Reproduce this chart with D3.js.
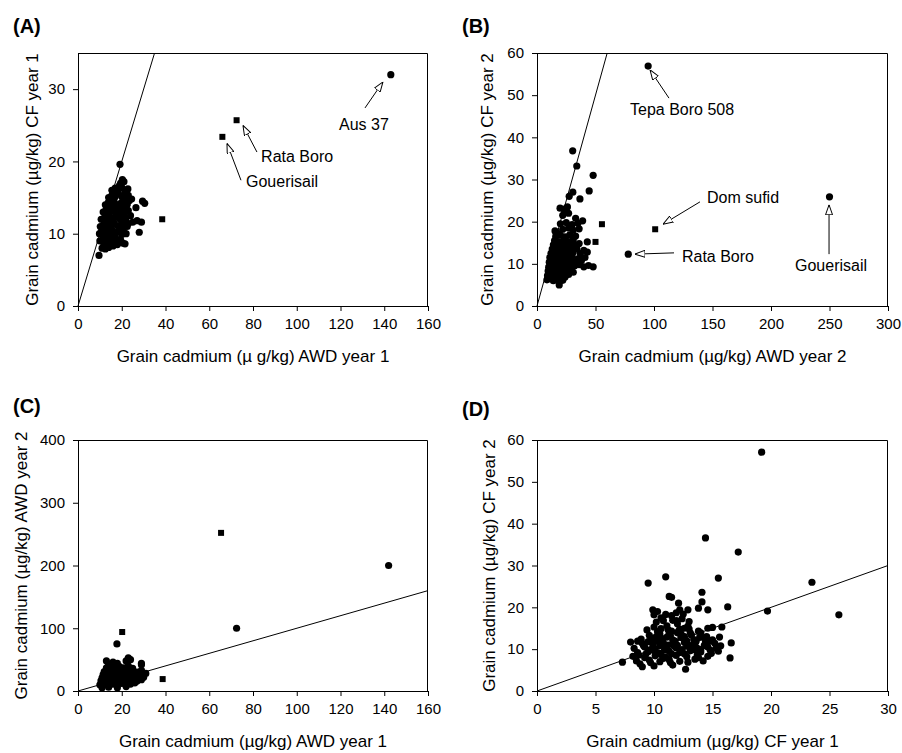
<!DOCTYPE html>
<html>
<head>
<meta charset="utf-8">
<title>Grain cadmium, AWD vs CF</title>
<script src="https://cdnjs.cloudflare.com/ajax/libs/d3/7.8.5/d3.min.js"></script>
<style>
  body { margin: 0; background: #fff; }
  svg { font-family: "Liberation Sans", Arial, sans-serif; }
  .axis path, .axis line { stroke: #000; stroke-width: 1px; }
  .axis text { font-size: 15px; fill: #000; }
  .frame { fill: none; stroke: #000; stroke-width: 1px; }
  .title { font-size: 17px; fill: #000; }
  .note { font-size: 16px; fill: #000; }
  .letter { font-size: 20px; font-weight: bold; fill: #000; }
  .ref { stroke: #000; stroke-width: 1px; }
  .arrow { stroke: #000; stroke-width: 1px; }
</style>
</head>
<body>
<svg id="chart" width="902" height="753"></svg>
<script>
// (A) AWD year 1 (x) vs CF year 1 (y)
var circlesA = [
  [9.6,7.0],[11,8.0],[12.5,7.9],[14,8.1],[16,8.3],[11.8,8.4],[13.2,8.6],[20.5,8.7],[21.5,8.6],[18,8.5],
  [10,9.0],[11.2,9.2],[12.5,9.1],[13.8,9.3],[15,9.0],[16.5,9.4],[18,9.2],[19.5,9.1],[17.2,8.9],
  [9.8,10.0],[10.8,10.3],[12,9.8],[13.3,10.2],[14.6,10.0],[15.8,10.4],[17,10.1],[18.5,10.3],[20,9.9],[22,10.0],[28,10.2],
  [10.2,11.0],[11.5,11.2],[12.8,10.8],[14,11.3],[15.2,11.0],[16.6,11.4],[18,11.1],[19.4,10.9],[21,11.3],[23,11.4],[25,11.6],[27,11.8],[29,11.6],
  [10.6,12.0],[12,12.2],[13.4,11.9],[14.8,12.3],[16,12.0],[17.4,12.4],[18.8,12.1],[20.2,12.3],[21.8,12.0],[24,12.5],
  [11.5,13.0],[12.8,13.3],[14.2,12.9],[15.6,13.2],[17,13.0],[18.4,13.4],[20,13.1],[21.4,13.5],[23,13.2],[26.5,13.6],
  [12.5,14.0],[13.8,14.3],[15.2,14.1],[16.5,14.4],[18,14.0],[19.5,14.2],[21,14.5],[22.5,14.1],[24.5,14.8],[29.5,14.5],[30.5,14.2],
  [14,15.0],[15.5,15.3],[17,15.1],[18.5,15.5],[20,15.2],[21.5,15.6],[23,15.3],
  [15.5,16.0],[17,16.3],[18.5,16.1],[20,16.4],[21.5,16.0],[22.8,16.2],
  [19.5,17.0],[21,17.2],[20.3,17.5],[19.2,19.6],
  [11,10.6],[12.4,11.5],[13.7,12.5],[15,13.7],[16.3,14.8],[17.7,15.7],[19,16.7],[14.3,10.7],[16,11.7],
  [17.6,12.7],[19.2,13.8],[20.5,14.8],[13,9.6],[15.4,9.7],[17,9.7],[19,10.5],[20.7,10.5],[22.5,11],
  [12,10.6],[21.2,12.8],[22.3,13.9],[23.5,14.6],[22,15.1],[16.8,13.8],[18.2,12.8],[19.8,11.8],
  [143,32.0]
];
var squaresA = [[38.5,12.0],[66,23.4],[72.5,25.7]];

// (B) AWD year 2 (x) vs CF year 2 (y)
var circlesB = [
  [19,5.0],
  [8.5,6.2],[11,6.5],[14,6.0],[17,6.3],[22,6.1],
  [9,7.2],[12,7.0],[15,7.4],[18,7.1],[21,7.3],[24,6.9],[27,7.5],
  [9.5,8.3],[12.5,8.0],[15.5,8.4],[18.5,8.1],[21.5,8.5],[24.5,8.2],[28,8.4],[31,8.0],
  [10,9.2],[13,9.5],[16,9.1],[19,9.4],[22,9.0],[25,9.6],[28.5,9.3],[32,9.5],[36,9.8],[40,9.3],[44,9.6],[48,9.3],
  [10.5,10.4],[13.5,10.1],[16.5,10.5],[19.5,10.2],[22.5,10.6],[26,10.3],[29,10.7],[33,10.4],[38,10.8],
  [11,11.5],[14,11.2],[17,11.6],[20,11.3],[23,11.7],[26.5,11.4],[30,11.8],[35,11.2],[41,11.5],
  [12,12.5],[15,12.2],[18,12.6],[21,12.3],[24,12.7],[27.5,12.4],[31,12.8],[37,12.4],[43,12.8],
  [13,13.5],[16,13.2],[19,13.6],[22,13.3],[25.5,13.7],[29,13.4],[34,13.6],[40,13.2],
  [14,14.5],[17.5,14.2],[21,14.6],[24.5,14.3],[28,14.7],[32,14.4],[36,14.8],
  [15,15.5],[19,15.2],[23,15.6],[27,15.3],[31,15.7],[43,15.2],
  [16,16.5],[20,16.8],[24,16.4],[28,16.9],[33,16.6],[17,17.4],
  [15.4,17.8],[22,18.2],[27,18.5],[31,18.0],[36,18.3],
  [20,19.5],[25,19.8],[30,19.3],[35,19.6],[39,20.2],
  [22,21.5],[27,22.0],[33,20.8],[24,22.5],
  [19.7,23.2],[23,23.0],[26,23.5],
  [27.5,26.0],[30.6,27.0],[36.7,25.4],[44.6,27.3],[48,31.0],[34,33.2],[30.5,36.8],
  [95,56.9],[78,12.3],[250,25.9]
];
var squaresB = [[50,15.2],[55.5,19.4],[101,18.2]];

// (C) AWD year 1 (x) vs AWD year 2 (y)
var circlesC = [
  [11,5],[14,6],[18,5],[22,7],
  [10,10],[12,12],[14,9],[16,11],[18,10],[20,12],[22,9],[24,11],[26,13],
  [10.5,16],[12.5,14],[14.5,17],[16.5,15],[18.5,16],[20.5,14],[22.5,17],[24.5,15],[27,16],[29,18],
  [11,21],[13,19],[15,22],[17,20],[19,23],[21,20],[23,22],[25,19],[27,21],[30,22],
  [11.5,26],[13.5,24],[15.5,27],[17.5,25],[19.5,28],[21.5,25],[23.5,27],[26,26],[28.5,27],[31,28],
  [12,31],[14,33],[16,30],[18,32],[20,34],[22,31],[24,33],[27,30],[29,33],
  [13,37],[15,40],[17,36],[19,39],[21,37],[23,40],[25,36],[29,42],[14,42],
  [13,48],[16,46],[18,44],[23,53],[22,48],[29,44],[24,50],
  [17.8,75],[72.5,100],[142,200]
];
var squaresC = [[20.2,94],[38.7,19],[65.4,252]];

// (D) CF year 1 (x) vs CF year 2 (y)
var circlesD = [
  [9,5.8],[10,6],[11.6,6.2],[12.7,5.2],[8.8,6.5],
  [7.3,6.9],[8.5,7.2],[9.6,7.4],[10.5,7.0],[11.3,7.5],[12.2,7.1],[13.5,7.6],[14.2,7.2],
  [8.2,8.3],[9.2,8.0],[10.1,8.4],[11,8.1],[11.9,8.5],[12.8,8.2],[13.7,8.6],[14.6,8.3],[16.5,7.9],
  [8.6,9.2],[9.5,9.4],[10.4,9.1],[11.3,9.5],[12.2,9.2],[13.1,9.6],[14,9.3],[14.9,9.0],[15.5,9.5],
  [8.3,10.2],[9.2,10.5],[10.1,10.1],[11,10.6],[11.9,10.3],[12.8,10.7],[13.7,10.2],[14.6,10.5],[15.7,10.8],
  [8,11.7],[9,11.4],[9.9,11.1],[10.8,11.5],[11.7,11.2],[12.6,11.6],[13.5,11.3],[14.4,11.7],[15.2,11.4],[16.6,11.5],
  [8.9,12.4],[9.8,12.1],[10.7,12.5],[11.6,12.2],[12.5,12.6],[13.4,12.3],[14.3,12.7],[15.0,12.2],
  [9.6,13.3],[10.5,13.6],[11.4,13.2],[12.3,13.7],[13.2,13.4],[14.5,13.0],
  [9.4,14.6],[10.3,14.2],[11.2,14.7],[12.1,14.3],[13,14.8],[14.6,15],[15,15.2],
  [10.2,16.5],[11.1,15.6],[12,16.1],[12.9,15.5],[15.8,15.3],[10.8,16.8],
  [10.6,17.5],[11.5,18.0],[12.4,17.3],[10,18.2],[11.0,18.3],
  [9.9,19.4],[12.2,19.4],[12.9,19.4],[12.1,21],[13.8,19.8],[14.6,19.4],[16.3,20.1],[10.3,19.0],
  [11.3,22.6],[11.5,22.4],[14.1,21.3],[14.1,23.6],[9.5,25.8],[11.0,27.3],[15.5,27],
  [9.7,6.8],[10.8,7.8],[11.5,8.9],[12.4,9.9],[13.3,10.9],[10.3,11.9],[11.1,12.9],[12.0,13.9],
  [12.8,12.0],[13.9,12.8],[9.1,10.9],[10.0,9.7],[10.9,9.8],[11.7,10.8],[12.6,8.9],[13.4,9.9],
  [14.3,10.9],[9.5,11.8],[10.4,12.8],[11.3,13.8],[12.2,14.8],[13.1,13.9],[14.0,13.9],[10.6,14.9],
  [11.6,16.9],[11.9,16.8],[12.6,15.0],[10.0,15.3],[9.3,8.8],[10.6,8.7],[11.4,6.8],[12.9,6.9],
  [13.8,8.0],[14.8,9.8],[15.3,10.2],[8.7,8.6],[9.9,12.6],[11.8,11.9],[12.9,11.1],[13.6,11.9],
  [14.8,11.9],[15.6,12.9],[14.0,9.9],[10.2,13.0],[11.5,14.3],[12.6,13.0],[13.0,16.6],[11.9,18.7],
  [12.5,18.4],[10.5,10.9],[11.2,11.0],[12.0,10.9],[8.6,11.9],[9.7,9.9],[12.3,12.8],[13.8,14.3],
  [14.4,36.6],[17.2,33.2],[19.2,57.1],[23.5,26],[25.8,18.2],[19.7,19.1]
];
var squaresD = [];

// tick labels
var ticksX_A = [0,20,40,60,80,100,120,140,160];
var ticksY_A = [0,10,20,30];
var ticksX_B = [0,50,100,150,200,250,300];
var ticksY_B = [0,10,20,30,40,50,60];
var ticksX_C = [0,20,40,60,80,100,120,140,160];
var ticksY_C = [0,100,200,300,400];
var ticksX_D = [0,5,10,15,20,25,30];
var ticksY_D = [0,10,20,30,40,50,60];

// cultivar notes: text anchor point and arrow tail -> head, in data units
var notesA = [
  {text:"Aus 37", tx:130.7, ty:24.3, anchor:"middle", x1:131.2, y1:27.4, x2:139.4, y2:31.0},
  {text:"Rata Boro", tx:83.7, ty:19.9, anchor:"start", x1:81.8, y1:21.3, x2:75.4, y2:25.0},
  {text:"Gouerisail", tx:76.8, ty:16.5, anchor:"start", x1:74.5, y1:17.4, x2:68.1, y2:22.5}
];
var notesB = [
  {text:"Tepa Boro 508", tx:79.5, ty:45.3, anchor:"start", x1:112.8, y1:49.3, x2:96.6, y2:56.0},
  {text:"Dom sufid", tx:145.3, ty:24.4, anchor:"start", x1:139.3, y1:24.7, x2:107.7, y2:19.4},
  {text:"Rata Boro", tx:123.9, ty:10.4, anchor:"start", x1:117.1, y1:12.6, x2:83.8, y2:12.3},
  {text:"Gouerisail", tx:251.3, ty:8.3, anchor:"middle", x1:249.6, y1:12.3, x2:249.6, y2:24.0}
];

var panels = [
  {letter:"(A)", lx:13, ly:33, left:78, top:53, w:350, h:253, xMax:160, yMax:35,
   xt:ticksX_A, yt:ticksY_A, circles:circlesA, squares:squaresA, notes:notesA,
   xTitle:"Grain cadmium (\u00b5 g/kg) AWD year 1", yTitle:"Grain cadmium (\u00b5g/kg) CF year 1", yOff:40},
  {letter:"(B)", lx:462, ly:33, left:537, top:53, w:351, h:253, xMax:300, yMax:60,
   xt:ticksX_B, yt:ticksY_B, circles:circlesB, squares:squaresB, notes:notesB,
   xTitle:"Grain cadmium (\u00b5g/kg) AWD year 2", yTitle:"Grain cadmium (\u00b5g/kg) CF year 2", yOff:44},
  {letter:"(C)", lx:13, ly:413, left:78, top:440, w:350, h:251, xMax:160, yMax:400,
   xt:ticksX_C, yt:ticksY_C, circles:circlesC, squares:squaresC, notes:[],
   xTitle:"Grain cadmium (\u00b5g/kg) AWD year 1", yTitle:"Grain cadmium (\u00b5g/kg) AWD year 2", yOff:51},
  {letter:"(D)", lx:462, ly:416, left:537, top:440, w:351, h:251, xMax:30, yMax:60,
   xt:ticksX_D, yt:ticksY_D, circles:circlesD, squares:squaresD, notes:[],
   xTitle:"Grain cadmium (\u00b5g/kg) CF year 1", yTitle:"Grain cadmium (\u00b5g/kg) CF year 2", yOff:42}
];

var svg = d3.select("#chart");

svg.append("defs").append("marker")
  .attr("id", "head")
  .attr("viewBox", "0 0 10 8")
  .attr("refX", 10).attr("refY", 4)
  .attr("markerWidth", 10).attr("markerHeight", 8)
  .attr("markerUnits", "userSpaceOnUse")
  .attr("orient", "auto")
  .append("path")
  .attr("d", "M0,0.5 L10,4 L0,7.5 Z")
  .attr("fill", "#fff").attr("stroke", "#000").attr("stroke-width", 1);

panels.forEach(function(p) {
  var x = d3.scaleLinear().domain([0, p.xMax]).range([0, p.w]);
  var y = d3.scaleLinear().domain([0, p.yMax]).range([p.h, 0]);

  svg.append("text").attr("class", "letter")
    .attr("x", p.lx).attr("y", p.ly).text(p.letter);

  var g = svg.append("g").attr("transform", "translate(" + p.left + "," + p.top + ")");

  // top and right frame
  g.append("path").attr("class", "frame")
    .attr("d", "M0,0.5 H" + (p.w - 0.5) + " V" + p.h);

  g.append("g").attr("class", "axis")
    .attr("transform", "translate(0," + p.h + ")")
    .call(d3.axisBottom(x).tickValues(p.xt).tickSize(5).tickPadding(7).tickSizeOuter(0));

  g.append("g").attr("class", "axis")
    .call(d3.axisLeft(y).tickValues(p.yt).tickSize(5).tickPadding(8).tickSizeOuter(0));

  // 1:1 line
  var m = Math.min(p.xMax, p.yMax);
  g.append("line").attr("class", "ref")
    .attr("x1", x(0)).attr("y1", y(0)).attr("x2", x(m)).attr("y2", y(m));

  g.selectAll("circle.pt").data(p.circles).enter().append("circle")
    .attr("class", "pt")
    .attr("cx", function(d) { return x(d[0]); })
    .attr("cy", function(d) { return y(d[1]); })
    .attr("r", 3.6).attr("fill", "#000");

  g.selectAll("rect.pt").data(p.squares).enter().append("rect")
    .attr("class", "pt")
    .attr("x", function(d) { return x(d[0]) - 3; })
    .attr("y", function(d) { return y(d[1]) - 3; })
    .attr("width", 6).attr("height", 6).attr("fill", "#000");

  p.notes.forEach(function(n) {
    g.append("line").attr("class", "arrow")
      .attr("x1", x(n.x1)).attr("y1", y(n.y1))
      .attr("x2", x(n.x2)).attr("y2", y(n.y2))
      .attr("marker-end", "url(#head)");
    g.append("text").attr("class", "note")
      .attr("x", x(n.tx)).attr("y", y(n.ty))
      .attr("text-anchor", n.anchor).text(n.text);
  });

  g.append("text").attr("class", "title")
    .attr("x", p.w / 2).attr("y", p.h + 56)
    .attr("text-anchor", "middle").text(p.xTitle);

  g.append("text").attr("class", "title")
    .attr("transform", "translate(" + (-p.yOff) + "," + (p.h / 2) + ") rotate(-90)")
    .attr("text-anchor", "middle").text(p.yTitle);
});
</script>
</body>
</html>
